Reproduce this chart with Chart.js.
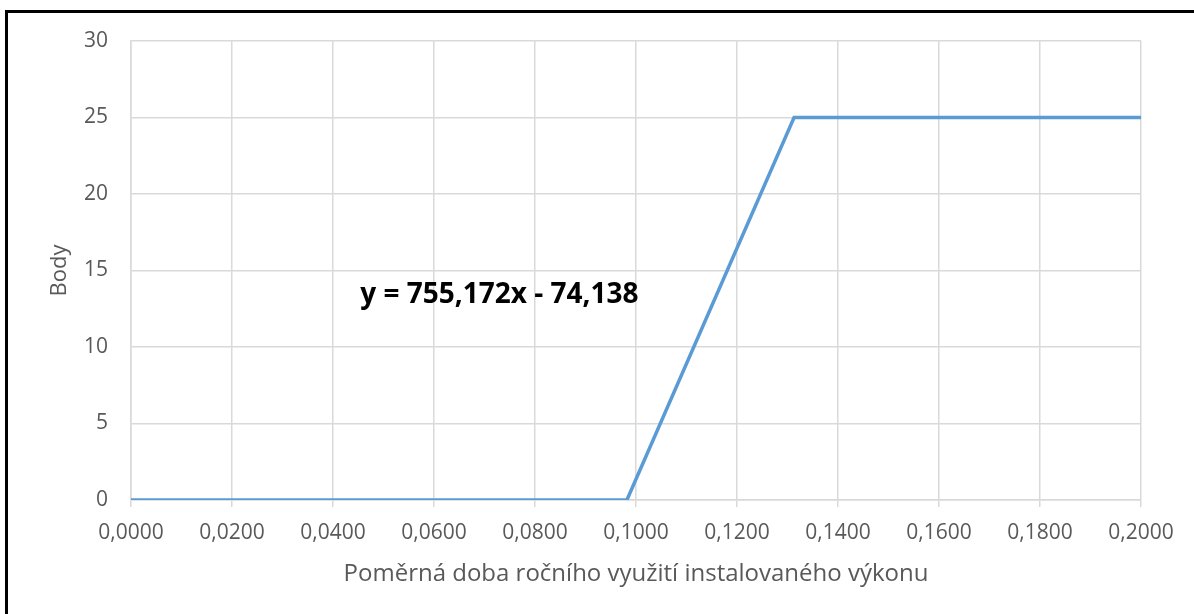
<!DOCTYPE html>
<html>
<head>
<meta charset="utf-8">
<script src="https://cdn.jsdelivr.net/npm/chart.js@4/dist/chart.umd.min.js"></script>
<style>
    html, body { margin: 0; padding: 0; background: #fff; }
    body { width: 1194px; height: 614px; position: relative; overflow: hidden; }
    #frame {
        position: absolute; left: 5px; top: 10px; width: 1300px; height: 700px;
        border-left: 3px solid #000; border-top: 3px solid #000;
    }
    #wrap { position: absolute; left: 0; top: 0; width: 1194px; height: 614px; }
</style>
</head>
<body>
<div id="frame"></div>
<div id="wrap"><canvas id="chart"></canvas></div>
<script>
// data
const xValues = [0, 0.0982, 0.1313, 0.2];
const yValues = [0, 0, 25, 25];
const xTickLabels = ['0,0000', '0,0200', '0,0400', '0,0600', '0,0800', '0,1000',
    '0,1200', '0,1400', '0,1600', '0,1800', '0,2000'];
const yTickLabels = ['0', '5', '10', '15', '20', '25', '30'];
const equationText = 'y = 755,172x - 74,138';
const equationAt = { x: 0.0454, y: 13.4 };

const gray = '#595959';
const gridColor = '#d9d9d9';
const fontFamily = '"Open Sans", sans-serif';

const equationPlugin = {
    id: 'equation',
    afterDatasetsDraw(chart) {
        const { ctx, scales } = chart;
        ctx.save();
        ctx.font = `bold 28px ${fontFamily}`;
        ctx.fillStyle = '#000';
        ctx.textAlign = 'left';
        ctx.textBaseline = 'middle';
        ctx.fillText(equationText, scales.x.getPixelForValue(equationAt.x), scales.y.getPixelForValue(equationAt.y));
        ctx.restore();
    }
};

const ctx = document.getElementById('chart').getContext('2d');
new Chart(ctx, {
    type: 'scatter',
    data: {
        datasets: [{
            data: xValues.map((x, i) => ({ x: x, y: yValues[i] })),
            showLine: true,
            borderColor: '#5b9bd5',
            borderWidth: 3.5,
            pointRadius: 0,
            tension: 0
        }]
    },
    options: {
        responsive: true,
        maintainAspectRatio: false,
        animation: false,
        layout: { padding: { top: 41, right: 53, bottom: 0, left: 0 } },
        plugins: { legend: { display: false }, tooltip: { enabled: false } },
        scales: {
            x: {
                type: 'linear',
                min: 0,
                max: 0.2,
                afterFit: (s) => { s.height = 114; },
                ticks: {
                    stepSize: 0.02,
                    maxRotation: 0,
                    autoSkip: false,
                    color: gray,
                    padding: 13,
                    font: { family: fontFamily, size: 21 },
                    callback: (v, i) => xTickLabels[i]
                },
                grid: { color: gridColor, lineWidth: 1.5, tickLength: 7, tickColor: gridColor },
                border: { color: gridColor, width: 1.5 },
                title: {
                    display: true,
                    text: 'Poměrná doba ročního využití instalovaného výkonu',
                    color: gray,
                    font: { family: fontFamily, size: 24 },
                    padding: { top: 0, bottom: 25 }
                }
            },
            y: {
                min: 0,
                max: 30,
                afterFit: (s) => { s.width = 131; },
                ticks: {
                    stepSize: 5,
                    color: gray,
                    padding: 23,
                    font: { family: fontFamily, size: 21 },
                    callback: (v, i) => yTickLabels[i]
                },
                grid: { color: gridColor, lineWidth: 1.5, drawTicks: false },
                border: { color: gridColor, width: 1.5 },
                title: {
                    display: true,
                    text: 'Body',
                    color: gray,
                    font: { family: fontFamily, size: 22 },
                    padding: { top: 47, bottom: 0 }
                }
            }
        }
    },
    plugins: [equationPlugin]
});
</script>
</body>
</html>
